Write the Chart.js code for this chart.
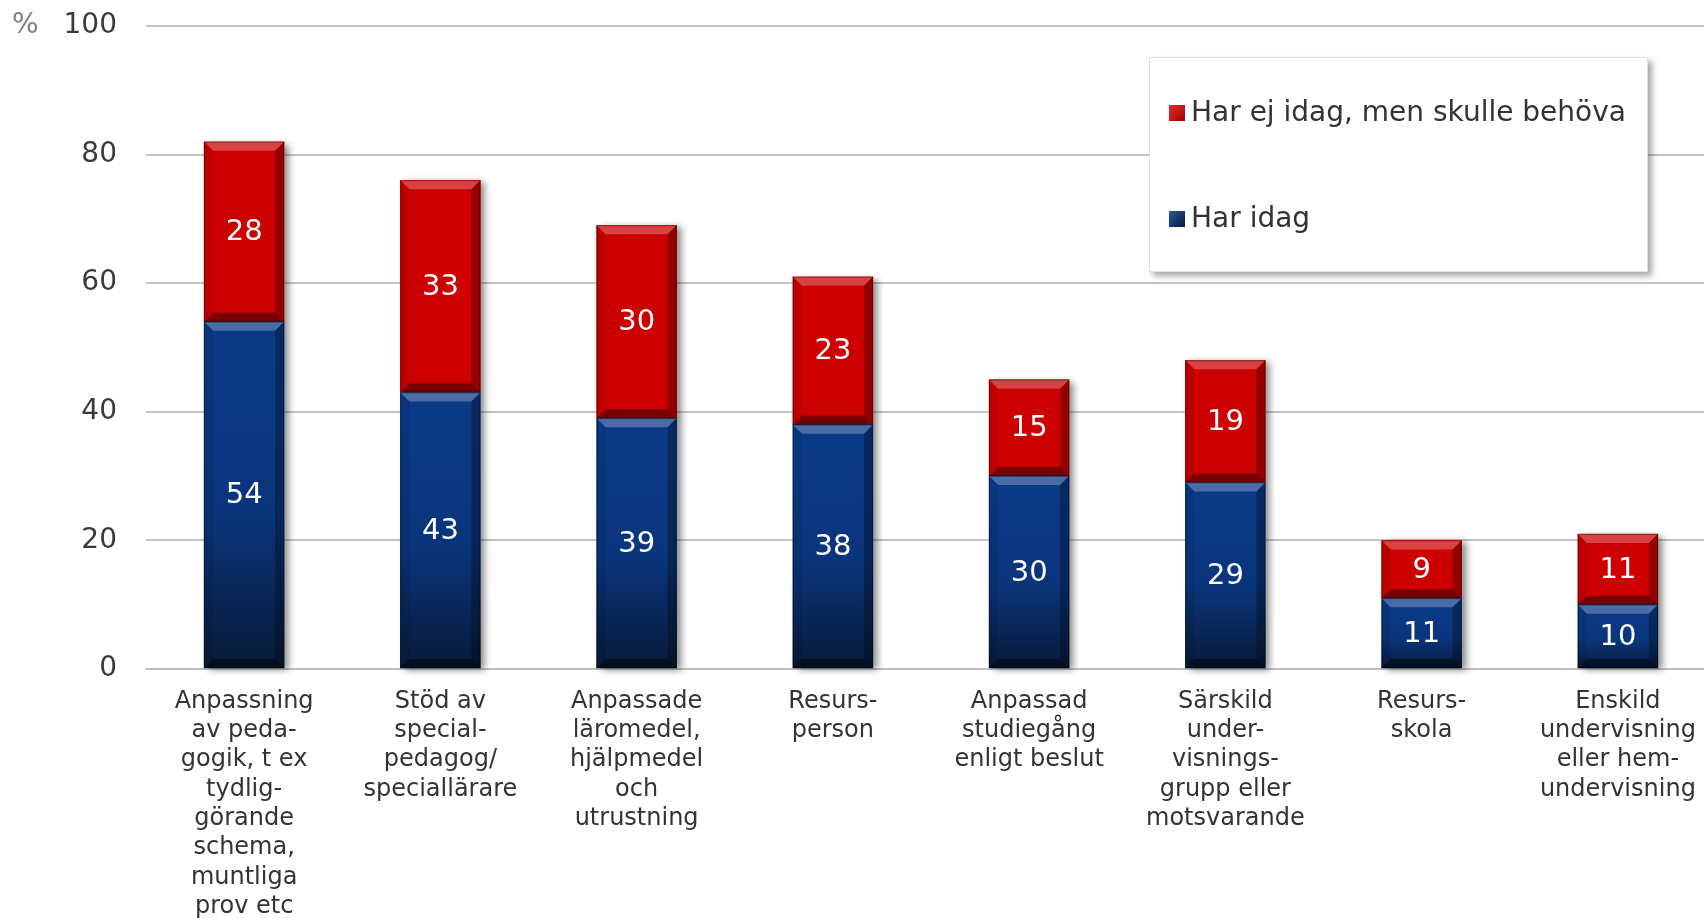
<!DOCTYPE html>
<html>
<head>
<meta charset="utf-8">
<script src="https://cdn.jsdelivr.net/npm/chart.js@4"></script>
<style>
  html, body { margin: 0; padding: 0; background: #fff; overflow: hidden; }
  #wrap { position: relative; width: 1720px; height: 918px; }
  #legend {
    position: absolute; left: 1149px; top: 57px; width: 497px; height: 213px;
    background: #fff; border: 1px solid #e2e2e2;
    box-shadow: 4px 4px 6px rgba(0,0,0,0.35);
    font-family: "DejaVu Sans", Verdana, sans-serif; font-size: 28px; color: #333;
  }
  .item { position: absolute; left: 19px; height: 34px; line-height: 34px; white-space: nowrap; }
  .item .mark { display: inline-block; width: 16px; height: 16px; vertical-align: 0px; margin-right: 6px; }
</style>
</head>
<body>
<div id="wrap">
  <canvas id="chart" width="1720" height="918"></canvas>
  <div id="legend"></div>
</div>
<script>
// categories (x labels, already wrapped like the original)
const categories = [
  ['Anpassning', 'av peda-', 'gogik, t ex', 'tydlig-', 'görande', 'schema,', 'muntliga', 'prov etc'],
  ['Stöd av', 'special-', 'pedagog/', 'speciallärare'],
  ['Anpassade', 'läromedel,', 'hjälpmedel', 'och', 'utrustning'],
  ['Resurs-', 'person'],
  ['Anpassad', 'studiegång', 'enligt beslut'],
  ['Särskild', 'under-', 'visnings-', 'grupp eller', 'motsvarande'],
  ['Resurs-', 'skola'],
  ['Enskild', 'undervisning', 'eller hem-', 'undervisning']
];
const harIdag = [54, 43, 39, 38, 30, 29, 11, 10];
const harEjIdag = [28, 33, 30, 23, 15, 19, 9, 11];
const yMin = 0, yMax = 100, yStep = 20;

const FONT = '"DejaVu Sans", Verdana, sans-serif';
const RED = '#CC0000';
const BLUE = '#0A3884';

// blue body darkens toward the bottom of each bar
function blueFill(ctx) {
  const chart = ctx.chart;
  const y = chart.scales.y;
  if (ctx.type !== 'data' || !y) return BLUE;
  const top = y.getPixelForValue(harIdag[ctx.dataIndex]);
  const bot = y.getPixelForValue(0);
  if (!isFinite(top) || !isFinite(bot) || bot - top < 1) return BLUE;
  const g = chart.ctx.createLinearGradient(0, top, 0, bot);
  g.addColorStop(0, '#0B3A88');
  g.addColorStop(0.55, '#0A357C');
  g.addColorStop(1, '#081A38');
  return g;
}

// drop shadow behind each whole stack
const shadowPlugin = {
  id: 'stackShadow',
  beforeDatasetsDraw(chart) {
    const ctx = chart.ctx;
    const low = chart.getDatasetMeta(0).data;
    const high = chart.getDatasetMeta(1).data;
    ctx.save();
    ctx.shadowColor = 'rgba(0,0,0,0.45)';
    ctx.shadowBlur = 7;
    ctx.shadowOffsetX = 5;
    ctx.shadowOffsetY = 2;
    ctx.fillStyle = '#fff';
    low.forEach((el, i) => {
      const a = el.getProps(['x', 'y', 'base', 'width'], true);
      const b = high[i].getProps(['y'], true);
      ctx.fillRect(a.x - a.width / 2, b.y, a.width, a.base - b.y);
    });
    ctx.restore();
  }
};

// bevel edges, value labels and the "%" sign
const bevelPlugin = {
  id: 'bevel',
  afterDatasetsDraw(chart) {
    const ctx = chart.ctx;
    ctx.save();
    chart.data.datasets.forEach((ds, di) => {
      chart.getDatasetMeta(di).data.forEach((el, i) => {
        const p = el.getProps(['x', 'y', 'base', 'width'], true);
        const x0 = p.x - p.width / 2, x1 = p.x + p.width / 2;
        const t = Math.min(p.y, p.base), bt = Math.max(p.y, p.base);
        const b = Math.min(9, (bt - t) / 3);
        const poly = (pts, col) => {
          ctx.beginPath();
          ctx.moveTo(pts[0][0], pts[0][1]);
          pts.slice(1).forEach(q => ctx.lineTo(q[0], q[1]));
          ctx.closePath();
          ctx.fillStyle = col;
          ctx.fill();
        };
        poly([[x0, t], [x1, t], [x1 - b, t + b], [x0 + b, t + b]], 'rgba(255,255,255,0.26)');
        poly([[x0, bt], [x1, bt], [x1 - b, bt - b], [x0 + b, bt - b]], 'rgba(0,0,0,0.42)');
        poly([[x0, t], [x0 + b, t + b], [x0 + b, bt - b], [x0, bt]], 'rgba(0,0,0,0.07)');
        poly([[x1, t], [x1 - b, t + b], [x1 - b, bt - b], [x1, bt]], 'rgba(0,0,0,0.28)');
        ctx.strokeStyle = 'rgba(0,0,0,0.35)';
        ctx.lineWidth = 1;
        ctx.strokeRect(x0 + 0.5, t + 0.5, p.width - 1, bt - t - 1);

        ctx.fillStyle = '#fff';
        ctx.font = '29px ' + FONT;
        ctx.textAlign = 'center';
        ctx.textBaseline = 'middle';
        ctx.fillText(String(ds.data[i]), p.x, (t + bt) / 2 + 1);
      });
    });
    const y = chart.scales.y;
    ctx.fillStyle = '#808080';
    ctx.font = '28px ' + FONT;
    ctx.textAlign = 'left';
    ctx.textBaseline = 'middle';
    ctx.fillText('%', 12, y.getPixelForValue(yMax));
    ctx.restore();
  }
};

const chart = new Chart(document.getElementById('chart'), {
  type: 'bar',
  data: {
    labels: categories,
    datasets: [
      { label: 'Har idag', data: harIdag, backgroundColor: blueFill, barThickness: 80 },
      { label: 'Har ej idag, men skulle behöva', data: harEjIdag, backgroundColor: RED, barThickness: 80 }
    ]
  },
  options: {
    responsive: false,
    animation: false,
    events: [],
    layout: { padding: { top: 26, right: 4, left: 0, bottom: 0 } },
    plugins: { legend: { display: false }, tooltip: { enabled: false } },
    scales: {
      x: {
        stacked: true,
        grid: { display: false },
        border: { color: '#BFBFBF', width: 2 },
        ticks: {
          color: '#333',
          font: { family: FONT, size: 24, lineHeight: 1.22 },
          padding: 10,
          maxRotation: 0,
          autoSkip: false
        },
        afterFit(scale) { scale.height = 249; }
      },
      y: {
        stacked: true,
        min: yMin, max: yMax,
        grid: { color: '#C4C4C4', lineWidth: 2, drawTicks: false },
        border: { display: false },
        ticks: {
          stepSize: yStep,
          color: '#3a3a3a',
          font: { family: FONT, size: 28 },
          padding: 29
        },
        afterFit(scale) {
          scale.width = 146;
          // tick padding would otherwise push the plot area down
          scale.paddingTop = 0;
          scale.paddingBottom = 0;
        }
      }
    }
  },
  plugins: [shadowPlugin, bevelPlugin]
});

// html legend, red series first as in the original
const legend = document.getElementById('legend');
const legendItems = [
  { ds: 1, top: 37, grad: 'linear-gradient(135deg, #e23030, #a00000)' },
  { ds: 0, top: 143, grad: 'linear-gradient(135deg, #2c5aa0, #061a3a)' }
];
legendItems.forEach(it => {
  const div = document.createElement('div');
  div.className = 'item';
  div.style.top = it.top + 'px';
  const m = document.createElement('span');
  m.className = 'mark';
  m.style.background = it.grad;
  div.appendChild(m);
  div.appendChild(document.createTextNode(chart.data.datasets[it.ds].label));
  legend.appendChild(div);
});
</script>
</body>
</html>
